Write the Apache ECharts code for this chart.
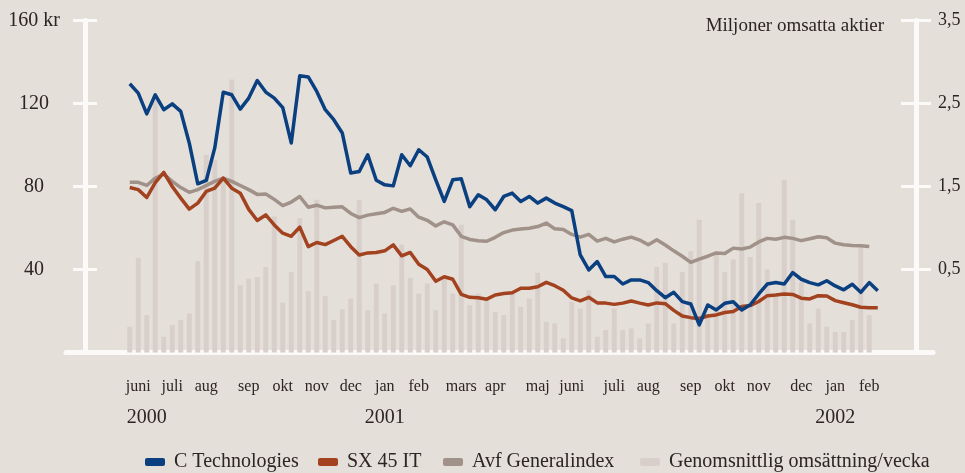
<!DOCTYPE html>
<html>
<head>
<meta charset="utf-8">
<script src="https://cdn.jsdelivr.net/npm/echarts@6/dist/echarts.min.js"></script>
<style>
  html, body { margin: 0; padding: 0; background: #e5dfda; }
  #chart { width: 965px; height: 473px; }
</style>
</head>
<body>
<div id="chart"></div>
<script>
// weekly values, juni 2000 - feb 2002
const cTech = [129.5, 125, 115, 124.2, 117, 119.8, 116.2, 101, 81.3, 82.9,
  98.6, 125.4, 124.2, 117.3, 122.6, 131.1, 125.5, 122.6, 118, 101,
  133.4, 132.8, 125.8, 117, 112.2, 105.8, 86.5, 87.2, 95.3, 83,
  80.8, 80.3, 95.3, 90, 97.7, 94.2, 83.2, 72.8, 83.2, 83.7,
  70.3, 76, 73.6, 68.8, 75.2, 76.8, 72.8, 75.2, 72, 74.4,
  72, 70.3, 68.4, 47, 39.8, 43.8, 36.6, 36.6, 33, 35,
  35, 33.7, 29.8, 26.4, 29, 24.5, 23.4, 13.3, 22.9, 20.5,
  23.7, 24.5, 20.5, 23, 28.2, 33, 33.7, 33, 38.5, 35.3,
  33.7, 32.6, 34.6, 32.1, 30.2, 32.9, 29, 33.7, 29.8];

const sx45 = [79.5, 78.5, 74.7, 81.9, 86.8, 80, 74.4, 69.1, 72, 77.6,
  79.2, 84, 79.2, 76.8, 69, 63.6, 66.3, 61.5, 57.5, 56,
  60.4, 51, 53, 52, 54, 56, 51, 47, 48, 48.2,
  49, 51.9, 46.6, 48.2, 42.5, 40, 34.3, 36.5, 35.3, 28,
  26.6, 26.4, 25.7, 27.7, 28.4, 28.8, 31, 31, 31.7, 33.8,
  32.2, 30, 26.3, 24.9, 26.6, 23.9, 23.8, 23.2, 23.8, 24.8,
  23.8, 22.9, 23.9, 23.5, 20.3, 17.6, 16.8, 16.4, 17.6, 18.1,
  19.3, 19.8, 22.2, 22.6, 24.6, 27.4, 27.7, 28.2, 28, 26.2,
  25.8, 27.4, 27.2, 25, 24, 23, 21.8, 21.6, 21.6];

const generalIndex = [82, 82, 80.5, 84, 86, 82.5, 79.5, 77.2, 78.5, 80.5,
  82.5, 84, 82.5, 80.5, 78.5, 76.2, 76.4, 73.8, 70.8, 72.5,
  75.2, 70, 71, 69.7, 70, 70.2, 67, 65, 66.2, 66.9,
  67.5, 69.5, 68, 69.2, 65.2, 63.7, 61, 63, 61.5, 56,
  54.5, 53.9, 53.6, 55.5, 57.8, 59, 59.5, 59.9, 60.7, 62.4,
  59.6, 59.3, 56.9, 55.6, 56.9, 53.7, 55, 53.3, 54.6, 55.6,
  54.2, 51.9, 54.3, 51.8, 49, 46.4, 43.4, 45, 46.4, 48,
  47.7, 50.3, 49.9, 50.8, 53.3, 55, 54.6, 55.5, 55, 53.9,
  54.8, 55.8, 55.3, 52.7, 51.9, 51.6, 51.4, 51.1];

// bar heights in right-axis units from the baseline (axis labels read 0,5 lower)
const volume = [0.31, 1.14, 0.45, 3.08, 0.19, 0.33, 0.39, 0.47, 1.10, 2.38,
  2.32, 2.08, 3.29, 0.81, 0.89, 0.91, 1.03, 1.64, 0.60, 0.97,
  1.62, 0.74, 1.84, 0.68, 0.39, 0.52, 0.65, 1.84, 0.51, 0.83,
  0.47, 0.81, 1.30, 0.90, 0.71, 0.83, 0.51, 0.91, 0.71, 1.54,
  0.57, 0.71, 0.63, 0.49, 0.45, 0.71, 0.55, 0.65, 0.96, 0.37,
  0.35, 0.17, 0.61, 0.53, 0.75, 0.19, 0.27, 0.53, 0.27, 0.29,
  0.17, 0.35, 1.03, 1.08, 0.35, 0.97, 1.22, 1.60, 0.47, 1.18,
  0.97, 1.12, 1.92, 1.15, 1.80, 1.00, 0.69, 2.08, 1.60, 0.85,
  0.35, 0.53, 0.31, 0.25, 0.25, 0.39, 1.27, 0.45];

const monthNames = ['juni', 'juli', 'aug', 'sep', 'okt', 'nov', 'dec', 'jan', 'feb', 'mars', 'apr',
  'maj', 'juni', 'juli', 'aug', 'sep', 'okt', 'nov', 'dec', 'jan', 'feb'];
const monthWeek = [1, 5, 9, 14, 18, 22, 26, 30, 34, 39, 43, 48, 52, 57, 61, 66, 70, 74, 79, 83, 87];
const yearNames = ['2000', '2001', '2002'];
const yearWeek = [2, 30, 83];

const padBefore = 7;
const totalSlots = 102;
const slots = Array.from({ length: totalSlots }, (_, i) => String(i));
const pad = (arr) => {
  const out = Array(padBefore).fill('-').concat(arr);
  while (out.length < totalSlots) out.push('-');
  return out;
};
const labelAt = (names, weeks) => (value, idx) => {
  const k = weeks.indexOf(idx - padBefore);
  return k >= 0 ? names[k] : '';
};

const ink = '#2b2523';
const chalk = '#fbfaf8';
const serif = 'Liberation Serif';

const myChart = echarts.init(document.getElementById('chart'));

const makeLegend = (name, left) => ({
  left: left,
  top: 452,
  padding: 0,
  icon: 'roundRect',
  itemWidth: 20,
  itemHeight: 8,
  data: [name],
  textStyle: { fontFamily: serif, fontSize: 20, color: ink, padding: [0, 0, 0, 4] },
});

myChart.setOption({
  animation: false,
  backgroundColor: '#e5dfda',
  title: {
    text: 'Miljoner omsatta aktier',
    right: 81,
    top: 17,
    padding: 0,
    textStyle: { fontFamily: serif, fontSize: 19, fontWeight: 'normal', color: ink },
  },
  legend: [
    makeLegend('C Technologies', 145),
    makeLegend('SX 45 IT', 318),
    makeLegend('Avf Generalindex', 443),
    makeLegend('Genomsnittlig omsättning/vecka', 640),
  ],
  grid: {
    left: 66,
    right: 32,
    top: 20.5,
    bottom: 120.5,
    outerBoundsMode: 'none',
  },
  xAxis: [
    {
      type: 'category',
      data: slots,
      position: 'bottom',
      axisLine: { lineStyle: { color: chalk, width: 5 } },
      axisTick: { show: false },
      axisLabel: {
        interval: 0,
        margin: 26,
        fontFamily: serif,
        fontSize: 16,
        color: ink,
        formatter: labelAt(monthNames, monthWeek),
      },
    },
    {
      type: 'category',
      data: slots,
      position: 'bottom',
      axisLine: { show: false },
      axisTick: { show: false },
      axisLabel: {
        interval: 0,
        margin: 55,
        fontFamily: serif,
        fontSize: 20,
        color: ink,
        formatter: labelAt(yearNames, yearWeek),
      },
    },
  ],
  yAxis: [
    {
      type: 'value',
      position: 'left',
      offset: -19,
      min: 0,
      max: 160,
      interval: 40,
      splitLine: { show: false },
      axisLine: { show: true, lineStyle: { color: chalk, width: 5 } },
      axisTick: { show: true, inside: true, length: 12, lineStyle: { color: chalk, width: 3 } },
      axisLabel: {
        margin: 51,
        align: 'center',
        fontFamily: serif,
        fontSize: 20,
        color: ink,
        formatter: (v) => (v === 0 ? '' : v === 160 ? v + ' kr' : String(v)),
      },
    },
    {
      type: 'value',
      position: 'right',
      offset: -17,
      min: 0,
      max: 4,
      interval: 1,
      splitLine: { show: false },
      axisLine: { show: true, lineStyle: { color: chalk, width: 5 } },
      axisTick: { show: true, inside: true, length: 15, lineStyle: { color: chalk, width: 3 } },
      axisLabel: {
        margin: 22,
        fontFamily: serif,
        fontSize: 18,
        color: ink,
        formatter: (v) => (v === 0 ? '' : (v - 0.5).toFixed(1).replace('.', ',')),
      },
    },
    {
      type: 'value',
      position: 'left',
      offset: -19,
      min: 0,
      max: 160,
      interval: 40,
      splitLine: { show: false },
      axisLine: { show: false },
      axisTick: { show: true, length: 12, lineStyle: { color: chalk, width: 3 } },
      axisLabel: { show: false },
    },
    {
      type: 'value',
      position: 'right',
      offset: -17,
      min: 0,
      max: 4,
      interval: 1,
      splitLine: { show: false },
      axisLine: { show: false },
      axisTick: { show: true, length: 15, lineStyle: { color: chalk, width: 3 } },
      axisLabel: { show: false },
    },
  ],
  series: [
    {
      name: 'Genomsnittlig omsättning/vecka',
      type: 'bar',
      yAxisIndex: 1,
      barWidth: 5,
      itemStyle: { color: '#d8cfcb' },
      data: pad(volume),
    },
    {
      name: 'Avf Generalindex',
      type: 'line',
      symbol: 'none',
      lineStyle: { color: '#a09189', width: 3.5, join: 'round' },
      itemStyle: { color: '#a09189' },
      data: pad(generalIndex),
    },
    {
      name: 'SX 45 IT',
      type: 'line',
      symbol: 'none',
      lineStyle: { color: '#a2421f', width: 3.5, join: 'round' },
      itemStyle: { color: '#a2421f' },
      data: pad(sx45),
    },
    {
      name: 'C Technologies',
      type: 'line',
      symbol: 'none',
      lineStyle: { color: '#0a3f80', width: 3.5, join: 'round' },
      itemStyle: { color: '#0a3f80' },
      data: pad(cTech),
    },
  ],
});
</script>
</body>
</html>
